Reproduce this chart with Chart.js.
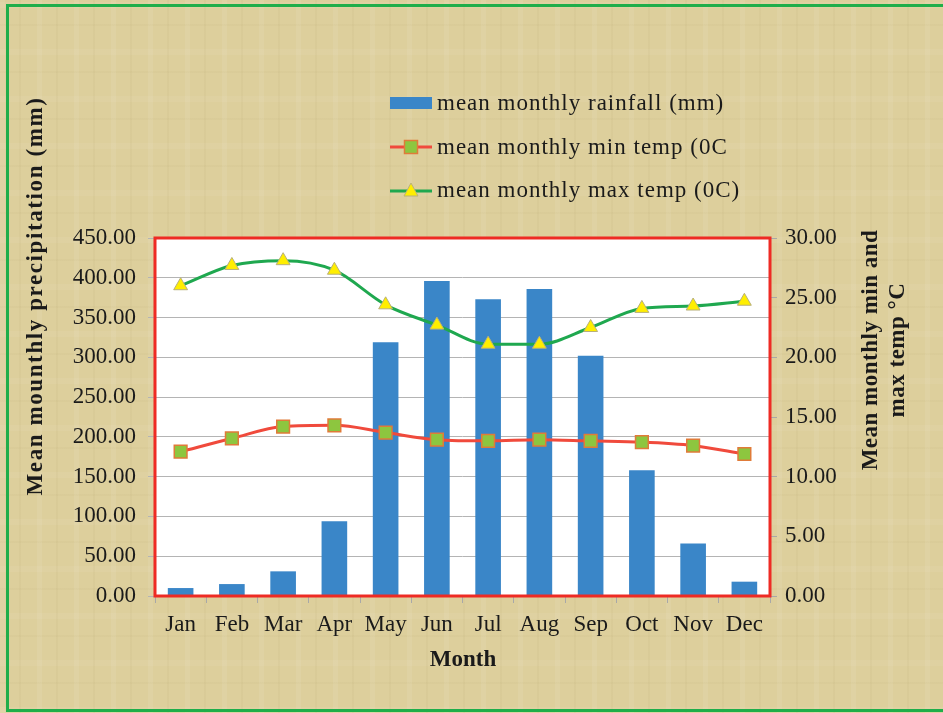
<!DOCTYPE html>
<html>
<head>
<meta charset="utf-8">
<script src="https://cdn.jsdelivr.net/npm/chart.js@4.4.1/dist/chart.umd.min.js"></script>
<style>
  body { margin: 0; overflow: hidden; }
  #page {
    position: relative;
    width: 943px;
    height: 713px;
    overflow: hidden;
    font-family: "Liberation Serif", "DejaVu Serif", serif;
    color: #1a1a1a;
    background-color: #ddcf9c;
    background-image:
      repeating-linear-gradient(90deg, rgba(255,255,255,0.07) 0px, rgba(255,255,255,0.07) 5px, rgba(0,0,0,0) 5px, rgba(0,0,0,0) 19px, rgba(120,100,40,0.04) 19px, rgba(120,100,40,0.04) 21px, rgba(0,0,0,0) 21px, rgba(0,0,0,0) 37px),
      repeating-linear-gradient(0deg, rgba(255,255,255,0.05) 0px, rgba(255,255,255,0.05) 6px, rgba(0,0,0,0) 6px, rgba(0,0,0,0) 29px, rgba(120,100,40,0.03) 29px, rgba(120,100,40,0.03) 31px, rgba(0,0,0,0) 31px, rgba(0,0,0,0) 47px);
  }
  #frame {
    position: absolute;
    left: 6px;
    top: 4px;
    width: 960px;
    height: 702px;
    border: 3px solid #1fae4a;
    border-right: none;
  }
  #wrap { position: absolute; left: 0; top: 0; width: 943px; height: 713px; }
  .legend-row {
    position: absolute;
    left: 390px;
    display: flex;
    align-items: center;
    font-size: 23px;
    letter-spacing: 1px;
    height: 26px;
    white-space: nowrap;
  }
  .legend-row svg { margin-right: 5px; }
  .title {
    position: absolute;
    font-weight: bold;
    font-size: 23px;
    text-align: center;
    white-space: nowrap;
  }
</style>
</head>
<body>
<div id="page">
  <div id="frame"></div>
  <div id="wrap"><canvas id="myChart"></canvas></div>

  <div class="legend-row" style="top:90px">
    <svg width="42" height="20"><rect x="0" y="4" width="42" height="12" fill="#3a86c8"></rect></svg>
    <span>mean monthly rainfall (mm)</span>
  </div>
  <div class="legend-row" style="top:134px">
    <svg width="42" height="20"><line x1="0" y1="10" x2="42" y2="10" stroke="#f04a3c" stroke-width="3"></line><rect x="14.5" y="3.5" width="13" height="13" fill="#8dc63f" stroke="#e07b39" stroke-width="1.5"></rect></svg>
    <span>mean monthly min temp (0C</span>
  </div>
  <div class="legend-row" style="top:177px">
    <svg width="42" height="20"><line x1="0" y1="11" x2="42" y2="11" stroke="#1fa84f" stroke-width="3"></line><polygon points="21,3 28,16 14,16" fill="#ffee00" stroke="#b8b07a" stroke-width="1"></polygon></svg>
    <span>mean monthly max temp (0C)</span>
  </div>

  <div class="title" style="left:-215px; top:283px; width:500px; letter-spacing:1.6px; transform:rotate(-90deg);">Mean mounthly precipitation (mm)</div>
  <div class="title" style="left:733px; top:323px; width:300px; line-height:27px; letter-spacing:0.5px; transform:rotate(-90deg);">Mean monthly min and<br>max temp °C</div>
  <div class="title" style="left:363px; top:646px; width:200px;">Month</div>
</div>

<script>
const months = ["Jan", "Feb", "Mar", "Apr", "May", "Jun", "Jul", "Aug", "Sep", "Oct", "Nov", "Dec"];
const rainfall = [10, 15, 31, 94, 319, 396, 373, 386, 302, 158, 66, 18];
const minTemp = [12.1, 13.2, 14.2, 14.3, 13.7, 13.1, 13.0, 13.1, 13.0, 12.9, 12.6, 11.9];
const maxTemp = [26.0, 27.7, 28.1, 27.3, 24.4, 22.7, 21.1, 21.1, 22.5, 24.1, 24.3, 24.7];
const rainTicks = { min: 0, max: 450, step: 50 };
const tempTicks = { min: 0, max: 30, step: 5 };

const tickFont = { family: "'Liberation Serif', serif", size: 23 };

// white plot area + red frame like the original
const plotFrame = {
  id: "plotFrame",
  beforeDraw(chart) {
    const { ctx, chartArea: a } = chart;
    ctx.save();
    ctx.fillStyle = "#ffffff";
    ctx.fillRect(a.left, a.top, a.right - a.left, a.bottom - a.top);
    ctx.restore();
  },
  afterDraw(chart) {
    const { ctx, chartArea: a } = chart;
    ctx.save();
    ctx.strokeStyle = "#ee2b24";
    ctx.lineWidth = 3;
    ctx.strokeRect(a.left, a.top, a.right - a.left, a.bottom - a.top);
    ctx.restore();
  },
};

const ctx = document.getElementById("myChart");

new Chart(ctx, {
  data: {
    labels: months,
    datasets: [
      {
        type: "line",
        label: "mean monthly min temp (0C",
        data: minTemp,
        yAxisID: "y1",
        borderColor: "#f04a3c",
        borderWidth: 3,
        cubicInterpolationMode: "monotone",
        pointStyle: "rect",
        pointRadius: 9,
        pointBackgroundColor: "#8dc63f",
        pointBorderColor: "#e07b39",
        pointBorderWidth: 1.5,
        order: 2,
      },
      {
        type: "line",
        label: "mean monthly max temp (0C)",
        data: maxTemp,
        yAxisID: "y1",
        borderColor: "#1fa84f",
        borderWidth: 3,
        cubicInterpolationMode: "monotone",
        pointStyle: "triangle",
        pointRadius: 8,
        pointBackgroundColor: "#ffee00",
        pointBorderColor: "#b8b07a",
        pointBorderWidth: 1,
        order: 1,
      },
      {
        type: "bar",
        label: "mean monthly rainfall (mm)",
        data: rainfall,
        yAxisID: "y",
        backgroundColor: "#3a86c8",
        barPercentage: 0.5,
        categoryPercentage: 1,
        order: 3,
      },
    ],
  },
  options: {
    responsive: true,
    maintainAspectRatio: false,
    animation: false,
    layout: { padding: { top: 238, left: 0, right: 0, bottom: 0 } },
    plugins: {
      legend: { display: false },
      tooltip: { enabled: false },
    },
    scales: {
      x: {
        afterFit: (s) => { s.height = 117; },
        grid: {
          offset: true,
          drawOnChartArea: false,
          color: "#a8a8a8",
          tickLength: 7,
        },
        border: { display: false },
        ticks: { color: "#1a1a1a", font: tickFont, padding: 8, maxRotation: 0 },
      },
      y: {
        position: "left",
        min: rainTicks.min,
        max: rainTicks.max,
        afterFit: (s) => { s.width = 155; },
        grid: { color: "#b4b4b4", tickLength: 7 },
        border: { display: false },
        ticks: {
          stepSize: rainTicks.step,
          color: "#1a1a1a",
          font: tickFont,
          padding: 12,
          callback: (v) => v.toFixed(2),
        },
      },
      y1: {
        position: "right",
        min: tempTicks.min,
        max: tempTicks.max,
        afterFit: (s) => { s.width = 173; },
        grid: { drawOnChartArea: false, color: "#a8a8a8", tickLength: 7 },
        border: { display: false },
        ticks: {
          stepSize: tempTicks.step,
          color: "#1a1a1a",
          font: tickFont,
          padding: 8,
          callback: (v) => v.toFixed(2),
        },
      },
    },
  },
  plugins: [plotFrame],
});
</script>
</body>
</html>
